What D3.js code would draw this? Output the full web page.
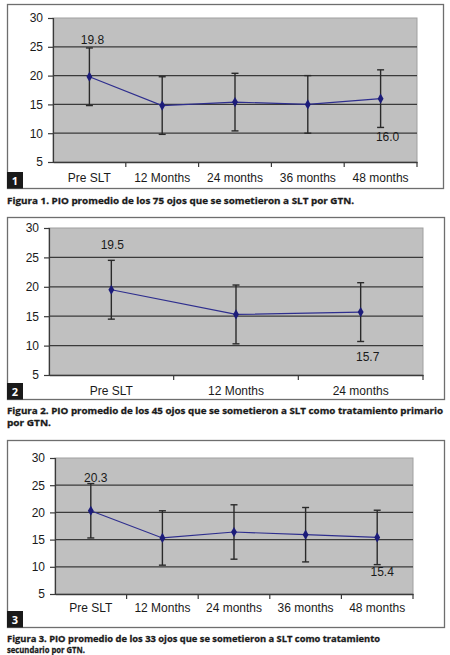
<!DOCTYPE html>
<html>
<head>
<meta charset="utf-8">
<script src="https://cdn.jsdelivr.net/npm/d3@7"></script>
<style>
  html, body { margin: 0; padding: 0; background: #fff; }
  svg { display: block; }
</style>
</head>
<body>
<svg id="chart" width="450" height="655"></svg>
<script>
// ---- data ----
const categories1 = ["Pre SLT", "12 Months", "24 months", "36 months", "48 months"];
const values1 = [19.8, 14.8, 15.4, 15.0, 16.0];
const errors1 = [5, 5, 5, 5, 5];

const categories2 = ["Pre SLT", "12 Months", "24 months"];
const values2 = [19.5, 15.3, 15.7];
const errors2 = [5, 5, 5];

const categories3 = ["Pre SLT", "12 Months", "24 months", "36 months", "48 months"];
const values3 = [20.3, 15.3, 16.4, 15.9, 15.4];
const errors3 = [5, 5, 5, 5, 5];

const yTicks = [5, 10, 15, 20, 25, 30];
const labels1 = ["19.8", "16.0"];
const labels2 = ["19.5", "15.7"];
const labels3 = ["20.3", "15.4"];
const badges = ["1", "2", "3"];
const caption1 = ["Figura 1. PIO promedio de los 75 ojos que se sometieron a SLT por GTN."];
const caption2 = ["Figura 2. PIO promedio de los 45 ojos que se sometieron a SLT como tratamiento primario", "por GTN."];
const caption3 = ["Figura 3. PIO promedio de los 33 ojos que se sometieron a SLT como tratamiento", "secundario por GTN."];

const svg = d3.select("#chart");

function drawChart(cfg) {
  const g = svg.append("g");
  // outer frame
  g.append("rect")
    .attr("x", cfg.box[0] + 0.5).attr("y", cfg.box[1] + 0.5)
    .attr("width", cfg.box[2] - cfg.box[0]).attr("height", cfg.box[3] - cfg.box[1])
    .attr("fill", "#fff").attr("stroke", "#6e6e6e").attr("stroke-width", 1.3);

  const x = d3.scaleBand().domain(cfg.categories).range([cfg.plot.l, cfg.plot.r]).padding(0);
  const y = d3.scaleLinear().domain([5, 30]).range([cfg.plot.b, cfg.plot.t]);

  // plot area
  g.append("rect")
    .attr("x", cfg.plot.l).attr("y", cfg.plot.t)
    .attr("width", cfg.plot.r - cfg.plot.l).attr("height", cfg.plot.b - cfg.plot.t)
    .attr("fill", "#c0c0c0").attr("stroke", "#a0a0a0").attr("stroke-width", 1);

  // gridlines
  g.selectAll(".grid").data(yTicks.filter(t => t > 5 && t < 30)).enter()
    .append("line")
    .attr("x1", cfg.plot.l).attr("x2", cfg.plot.r)
    .attr("y1", d => y(d)).attr("y2", d => y(d))
    .attr("stroke", "#3a3a3a").attr("stroke-width", 1.3);

  // y axis
  const yAxis = d3.axisLeft(y).tickValues(yTicks).tickSize(5).tickPadding(5).tickFormat(d3.format("d"));
  const ya = g.append("g").attr("transform", `translate(${cfg.plot.l},0)`).call(yAxis);
  ya.select(".domain").attr("stroke", "#3a3a3a").attr("stroke-width", 1.2);
  ya.selectAll(".tick line").attr("stroke", "#3a3a3a").attr("stroke-width", 1.2);
  ya.selectAll("text").attr("font-family", "Liberation Sans, Arial, sans-serif")
    .attr("font-size", 12).attr("fill", "#1a1a1a");

  // x axis
  const xa = g.append("g").attr("transform", `translate(0,${cfg.plot.b})`)
    .call(d3.axisBottom(x).tickSize(0).tickPadding(0).tickFormat(""));
  xa.select(".domain").attr("stroke", "#3a3a3a").attr("stroke-width", 1.3);
  xa.selectAll(".tick").remove();
  const bounds = cfg.categories.map(c => x(c)).concat([cfg.plot.r]).slice(1);
  xa.selectAll(".bt").data(bounds).enter().append("line")
    .attr("x1", d => d).attr("x2", d => d).attr("y1", 0).attr("y2", 5)
    .attr("stroke", "#3a3a3a").attr("stroke-width", 1.2);
  xa.selectAll(".cl").data(cfg.categories).enter().append("text")
    .attr("x", d => x(d) + x.bandwidth() / 2).attr("y", cfg.catDy)
    .attr("text-anchor", "middle")
    .attr("font-family", "Liberation Sans, Arial, sans-serif").attr("font-size", 12)
    .attr("fill", "#1a1a1a").text(d => d);

  const cx = (i) => x(cfg.categories[i]) + x.bandwidth() / 2;

  // error bars
  const eb = g.selectAll(".eb").data(cfg.values).enter().append("g");
  eb.append("line")
    .attr("x1", (d, i) => cx(i)).attr("x2", (d, i) => cx(i))
    .attr("y1", (d, i) => y(d + cfg.errors[i])).attr("y2", (d, i) => y(d - cfg.errors[i]))
    .attr("stroke", "#2a2a2a").attr("stroke-width", 1.4);
  eb.append("line")
    .attr("x1", (d, i) => cx(i) - 3.5).attr("x2", (d, i) => cx(i) + 3.5)
    .attr("y1", (d, i) => y(d + cfg.errors[i])).attr("y2", (d, i) => y(d + cfg.errors[i]))
    .attr("stroke", "#2a2a2a").attr("stroke-width", 1.4);
  eb.append("line")
    .attr("x1", (d, i) => cx(i) - 3.5).attr("x2", (d, i) => cx(i) + 3.5)
    .attr("y1", (d, i) => y(d - cfg.errors[i])).attr("y2", (d, i) => y(d - cfg.errors[i]))
    .attr("stroke", "#2a2a2a").attr("stroke-width", 1.4);

  // series line
  const line = d3.line().x((d, i) => cx(i)).y(d => y(d));
  g.append("path").datum(cfg.values).attr("d", line)
    .attr("fill", "none").attr("stroke", "#2e2e8e").attr("stroke-width", 1.2);

  // markers
  g.selectAll(".mk").data(cfg.values).enter().append("path")
    .attr("d", d3.symbol().type(d3.symbolDiamond).size(30))
    .attr("transform", (d, i) => `translate(${cx(i)},${y(d)})`)
    .attr("fill", "#1c1c7a");

  // data labels: first (above) and last (below)
  const n = cfg.values.length - 1;
  g.append("text").attr("x", cx(0) + cfg.lab[0][0]).attr("y", y(cfg.values[0]) + cfg.lab[0][1])
    .attr("text-anchor", "middle").attr("font-family", "Liberation Sans, Arial, sans-serif")
    .attr("font-size", 12).attr("fill", "#1a1a1a").text(cfg.labels[0]);
  g.append("text").attr("x", cx(n) + cfg.lab[1][0]).attr("y", y(cfg.values[n]) + cfg.lab[1][1])
    .attr("text-anchor", "middle").attr("font-family", "Liberation Sans, Arial, sans-serif")
    .attr("font-size", 12).attr("fill", "#1a1a1a").text(cfg.labels[1]);

  // badge
  g.append("rect").attr("x", cfg.box[0]).attr("y", cfg.box[3] - 16)
    .attr("width", 16).attr("height", 16.5).attr("fill", "#1a1a1a");
  g.append("text").attr("x", cfg.box[0] + 8).attr("y", cfg.box[3] - 3.5)
    .attr("text-anchor", "middle").attr("font-family", "Open Sans, DejaVu Sans, sans-serif")
    .attr("font-weight", "bold").attr("font-size", 11).attr("fill", "#fff").text(cfg.badge);

  // caption
  cfg.caption.forEach((t, i) => {
    g.append("text").attr("x", 7).attr("y", cfg.capY[i])
      .attr("font-family", "Open Sans, Noto Sans, sans-serif").attr("font-weight", "bold")
      .attr("font-size", 9.5).attr("fill", "#1a1a1a")
      .attr("stroke", "#1a1a1a").attr("stroke-width", 0.3)
      .attr("textLength", cfg.capW[i]).attr("lengthAdjust", "spacingAndGlyphs")
      .text(t);
  });
}

drawChart({
  categories: categories1, values: values1, errors: errors1, labels: labels1, badge: badges[0],
  box: [7, 4, 443, 188], plot: { l: 53, r: 417, t: 18, b: 162 }, catDy: 19.5,
  lab: [[3, -33], [7, 42]],
  caption: caption1, capY: [204], capW: [347]
});
drawChart({
  categories: categories2, values: values2, errors: errors2, labels: labels2, badge: badges[1],
  box: [7, 217, 444, 399], plot: { l: 49, r: 423, t: 228, b: 375 }, catDy: 19.5,
  lab: [[1, -41], [7, 49]],
  caption: caption2, capY: [414, 425.5], capW: [436, 44]
});
drawChart({
  categories: categories3, values: values3, errors: errors3, labels: labels3, badge: badges[2],
  box: [7, 440, 444, 627], plot: { l: 55, r: 413, t: 458, b: 594 }, catDy: 18,
  lab: [[5, -29], [5, 39]],
  caption: caption3, capY: [641.5, 653], capW: [373, 78]
});
</script>
</body>
</html>
